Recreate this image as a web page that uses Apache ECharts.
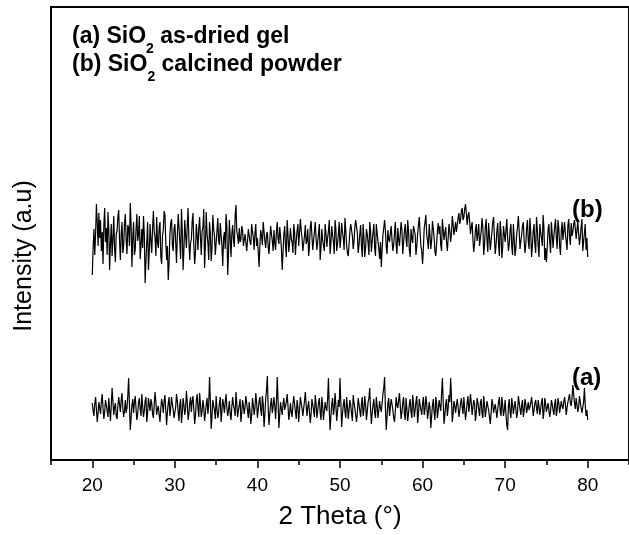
<!DOCTYPE html>
<html>
<head>
<meta charset="utf-8">
<script src="https://cdn.jsdelivr.net/npm/echarts@6/dist/echarts.min.js"></script>
<style>html,body{margin:0;padding:0;background:#fff}#c{width:629px;height:535px}</style>
</head>
<body>
<div id="c"></div>
<script>
// scan grid: 2-theta from 20 to 80 deg, step 0.1
const thetaStart = 20;
const thetaStep = 0.1;
// (b) SiO2 calcined powder (offset intensity, a.u.), 10 points per degree
const seriesB = [
185,212,231,205,226,256,238,214,247,222,
240,209,228,196,235,252,218,232,205,248,
230,190,217,236,204,221,244,212,198,226,
229,243,250,219,200,226,238,207,214,236,
246,221,206,235,232,214,257,236,193,222,
238,205,210,231,246,219,226,244,201,215,
231,212,244,226,177,199,218,238,190,207,
236,220,207,231,249,228,222,204,243,217,
212,233,238,203,196,224,230,249,245,219,
200,214,180,196,226,237,241,215,209,231,
236,218,197,224,246,233,218,201,251,229,
190,211,240,225,212,234,252,220,200,217,
221,239,247,214,196,208,236,225,210,232,
243,222,205,229,233,251,192,215,248,226,
217,200,238,226,199,212,245,231,224,205,
206,229,242,219,215,237,235,214,194,222,
228,211,246,233,185,207,240,223,203,226,
235,220,213,244,255,229,224,216,232,218,
221,234,230,214,216,226,228,209,219,231,
233,218,215,236,229,222,210,227,236,214,
222,208,193,215,230,224,215,238,237,219,
212,225,228,213,206,220,234,226,219,209,
230,217,210,228,238,221,216,233,224,212,
190,208,226,234,214,203,240,225,208,218,
232,221,218,207,236,228,205,219,229,236,
214,227,241,230,222,209,208,224,235,216,
219,231,204,213,233,239,224,210,212,228,
238,222,210,218,227,236,200,213,231,220,
220,209,236,227,213,222,229,240,206,217,
234,225,218,206,240,231,209,216,226,238,
212,221,237,228,222,210,242,230,215,207,
204,216,229,236,238,224,211,219,233,240,
240,227,207,215,226,235,214,203,236,222,
203,212,231,226,217,205,238,229,208,219,
228,236,212,204,236,227,219,211,201,218,
193,210,225,232,240,229,213,206,230,221,
218,227,234,220,209,215,227,238,215,206,
232,221,214,226,238,230,206,217,229,236,
221,213,240,229,210,203,231,222,217,234,
236,226,205,214,226,235,243,228,214,209,
196,212,232,238,245,226,219,211,236,224,
211,220,239,231,222,208,204,216,230,237,
226,234,215,209,241,230,220,227,233,218,
209,222,236,229,218,227,244,236,225,231,
238,228,229,242,247,236,240,249,252,240,
243,251,256,247,235,244,248,239,226,233,
238,220,208,217,230,236,219,226,236,214,
212,229,242,233,205,214,233,241,220,208,
237,224,210,219,228,238,243,222,206,215,
229,237,215,204,239,228,202,213,234,226,
218,230,241,222,209,216,230,236,213,205,
236,221,204,212,226,233,244,229,211,219,
225,234,238,220,207,215,232,240,219,211,
242,228,203,214,229,236,216,207,243,231,
214,203,236,228,222,214,245,232,200,212,
198,213,231,236,218,207,238,226,212,224,
233,241,222,211,240,232,214,205,229,238,
220,229,238,226,218,210,235,241,223,215,
237,224,228,236,240,231,221,230,239,226,
215,223,233,241,209,218,227,236,210,222,
203
];
// (a) SiO2 as-dried gel (intensity, a.u.), 10 points per degree
const seriesA = [
57,49,44,56,63,51,38,47,58,52,
46,59,66,52,41,48,60,55,49,43,
62,50,39,55,72,58,45,53,57,44,
41,54,63,56,48,60,67,52,43,49,
60,47,52,64,82,55,30,42,55,61,
47,58,64,51,40,46,58,62,51,44,
66,54,43,49,59,63,38,47,62,55,
49,61,57,46,42,55,68,58,45,51,
54,45,38,52,61,56,47,59,65,50,
35,48,57,63,44,52,63,56,50,42,
41,53,66,59,48,39,56,61,37,47,
62,55,45,51,69,58,40,46,57,63,
48,59,64,50,36,45,59,66,52,43,
67,56,43,49,60,53,39,47,56,62,
46,55,83,60,31,44,60,54,50,41,
64,51,42,48,57,63,38,49,61,55,
47,58,66,52,44,50,59,46,40,53,
63,55,51,44,68,57,43,50,55,61,
38,47,60,54,46,53,64,57,49,42,
58,49,36,45,62,55,45,52,67,58,
42,50,59,63,50,44,64,56,33,45,
61,70,84,52,35,46,56,62,47,53,
63,54,41,57,83,60,32,45,58,51,
45,56,62,50,49,58,66,54,40,47,
57,48,43,55,64,56,48,41,60,53,
38,50,63,57,52,44,46,59,68,55,
44,53,59,48,37,46,61,55,50,43,
65,57,42,49,57,62,47,40,63,54,
40,49,58,52,49,61,82,51,30,44,
56,62,45,51,67,55,39,48,60,53,
82,58,33,46,55,61,48,42,63,54,
41,50,60,55,46,39,65,57,52,45,
38,47,62,56,49,43,57,63,44,50,
64,55,40,48,58,62,72,51,36,47,
55,61,47,42,63,54,42,50,59,52,
48,57,66,72,83,52,30,44,57,62,
44,53,61,56,50,42,38,49,63,55,
52,60,67,54,41,48,58,63,46,40,
62,51,39,47,56,61,48,42,65,57,
43,50,59,64,37,46,61,55,50,45,
57,63,45,51,64,56,41,48,58,52,
32,44,55,61,47,40,63,57,42,50,
60,54,49,66,82,58,36,45,56,61,
44,52,65,58,82,63,38,47,59,54,
47,55,61,53,43,49,57,62,52,46,
63,51,40,48,58,64,48,55,66,57,
45,53,60,56,39,46,62,58,51,44,
57,61,46,42,64,55,43,50,59,54,
50,43,36,47,61,56,47,52,56,49,
42,51,58,63,49,44,63,55,44,50,
60,46,35,30,55,61,48,42,62,55,
46,53,59,51,42,48,64,58,51,45,
55,60,43,49,61,56,47,52,58,50,
49,57,63,55,44,50,57,60,52,46,
60,54,45,51,58,62,41,48,62,56,
48,53,57,50,43,49,60,56,50,45,
56,61,44,50,62,57,47,53,59,54,
51,58,63,55,45,52,58,62,66,57,
54,62,75,66,57,51,62,55,48,53,
64,58,52,47,46,58,72,55,44,50,
40
];
const xTickLabels = ['20','30','40','50','60','70','80'];
const xTitle = '2 Theta (°)';
const yTitle = 'Intensity (a.u)';
const legendLines = [['(a) SiO', '2', ' as-dried gel'], ['(b) SiO', '2', ' calcined powder']];
const curveTags = ['(a)', '(b)'];

function pairs(vals) {
  return vals.map((v, i) => [+(thetaStart + i * thetaStep).toFixed(1), v]);
}

const FONT = '"Liberation Sans", Arial, Helvetica, sans-serif';
const chart = echarts.init(document.getElementById('c'), null, {renderer: 'canvas'});

const richStyle = {
  m: {fontSize: 23, fontWeight: 'bold', fontFamily: FONT, color: '#000', lineHeight: 27, verticalAlign: 'top'},
  s: {fontSize: 14, fontWeight: 'bold', fontFamily: FONT, color: '#000', lineHeight: 14, verticalAlign: 'top', padding: [17, 0, 0, 0]}
};

chart.setOption({
  animation: false,
  backgroundColor: '#fff',
  grid: {left: 51, top: 7, width: 579, height: 453, show: true, borderColor: '#000', borderWidth: 2, backgroundColor: 'transparent'},
  xAxis: [{
    type: 'value', min: 15, max: 85, splitNumber: 7, position: 'bottom',
    axisLine: {show: true, onZero: false, lineStyle: {color: '#000', width: 2}},
    axisTick: {show: true, inside: false, length: 8, lineStyle: {color: '#000', width: 1.5}},
    axisLabel: {show: true, color: '#000', fontSize: 19, fontFamily: FONT, margin: 16, showMinLabel: false, showMaxLabel: false,
      formatter: v => xTickLabels.indexOf(String(v)) >= 0 ? String(v) : ''},
    splitLine: {show: false},
    name: xTitle, nameLocation: 'middle', nameGap: 44,
    nameTextStyle: {color: '#000', fontSize: 26, fontFamily: FONT}
  }, {
    type: 'value', min: 15, max: 85, interval: 10, position: 'bottom',
    axisLine: {show: false, onZero: false},
    axisTick: {show: true, inside: false, length: 5, lineStyle: {color: '#000', width: 1.5}},
    axisLabel: {show: false},
    splitLine: {show: false}
  }],
  yAxis: {
    type: 'value', min: 0, max: 453,
    axisLine: {show: true, onZero: false, lineStyle: {color: '#000', width: 1.5}},
    axisTick: {show: false}, axisLabel: {show: false}, splitLine: {show: false}
  },
  series: [
    {name: 'a', type: 'line', data: pairs(seriesA), showSymbol: false, symbol: 'none', xAxisIndex: 0,
      lineStyle: {color: '#000', width: 1.2}},
    {name: 'b', type: 'line', data: pairs(seriesB), showSymbol: false, symbol: 'none', xAxisIndex: 0,
      lineStyle: {color: '#000', width: 1.2}}
  ],
  graphic: [
    {type: 'text', left: 72, top: 25, style: {text: '{m|' + legendLines[0][0] + '}{s|' + legendLines[0][1] + '}{m|' + legendLines[0][2] + '}', rich: richStyle}},
    {type: 'text', left: 72, top: 53, style: {text: '{m|' + legendLines[1][0] + '}{s|' + legendLines[1][1] + '}{m|' + legendLines[1][2] + '}', rich: richStyle}},
    {type: 'text', left: 572, top: 366, style: {text: curveTags[0], font: 'bold 24px ' + FONT, fill: '#000'}},
    {type: 'text', left: 572, top: 198, style: {text: curveTags[1], font: 'bold 24px ' + FONT, fill: '#000'}},
    {type: 'text', x: 24, y: 256, rotation: Math.PI / 2,
      style: {text: yTitle, font: '25px ' + FONT, fill: '#000', align: 'center', verticalAlign: 'middle'}}
  ]
});
</script>
</body>
</html>
